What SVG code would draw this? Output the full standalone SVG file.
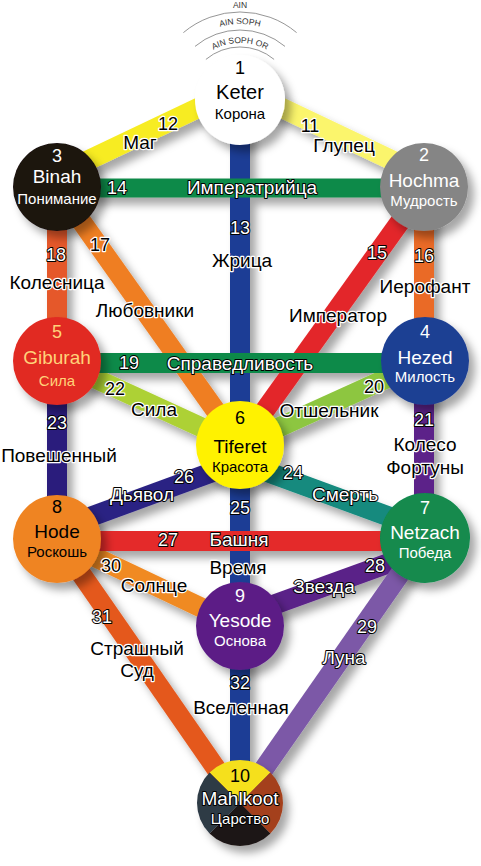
<svg xmlns="http://www.w3.org/2000/svg" width="481" height="866" viewBox="0 0 481 866">
<defs>
<style>
.band{fill:none;stroke-width:20;stroke-linecap:butt}
text{font-family:"Liberation Sans",Arial,sans-serif;text-anchor:middle;dominant-baseline:central}
.num{font-size:18px}
.wd{font-size:19px}
.w{fill:#fff;stroke:#000;stroke-width:2;paint-order:stroke;stroke-linejoin:round}
.b{fill:#000;stroke:#fff;stroke-width:2.4;paint-order:stroke;stroke-linejoin:round}
.nn{font-size:18px}
.nm{font-size:19px}
.sb{font-size:15px}
.ain{font-size:8.5px;fill:#333;text-anchor:middle}
.arc{fill:none;stroke:#8a8a8a;stroke-width:0.9}
</style>
<filter id="sh" x="-30%" y="-30%" width="170%" height="170%">
<feDropShadow dx="6" dy="7" stdDeviation="4" flood-color="#000" flood-opacity="0.35"/>
</filter>
<path id="ap2" d="M164,100 A76,76 0 0 1 316,100"/>
<path id="ap3" d="M183,100 A57,57 0 0 1 297,100"/>
</defs>
<rect width="481" height="866" fill="#fff"/>

<g id="ain">
<path class="arc" d="M183.4,32.6 A88,88 0 0 1 296.6,32.6"/>
<path class="arc" d="M195,46.4 A70,70 0 0 1 285,46.4"/>
<path class="arc" d="M205.9,59.4 A53,53 0 0 1 274.1,59.4"/>
<text class="ain" x="240" y="5">AIN</text>
<text class="ain" style="dominant-baseline:auto"><textPath href="#ap2" startOffset="50%">AIN SOPH</textPath></text>
<text class="ain" style="dominant-baseline:auto"><textPath href="#ap3" startOffset="50%">AIN SOPH OR</textPath></text>
</g>

<g id="connectors" filter="url(#sh)">
<line class="band" x1="240" y1="100" x2="240" y2="803" stroke="#1b3e95"/>
<line class="band" x1="57" y1="187" x2="240" y2="445" stroke="#ef7e22"/>
<line class="band" x1="425" y1="187" x2="240" y2="445" stroke="#e3262a"/>
<line class="band" x1="57" y1="175" x2="240" y2="88" stroke="#f7ec22"/>
<line class="band" x1="423" y1="175" x2="240" y2="88" stroke="#fbf56c"/>
<line class="band" x1="57" y1="187" x2="57" y2="361" stroke="#e5582a"/>
<line class="band" x1="424" y1="187" x2="424" y2="361" stroke="#ea6a25"/>
<line class="band" x1="57" y1="361" x2="57" y2="539" stroke="#2b1b7c"/>
<line class="band" x1="424" y1="361" x2="424" y2="538" stroke="#5c2389"/>
<line class="band" x1="57" y1="361" x2="240" y2="445" stroke="#add136"/>
<line class="band" x1="425" y1="361" x2="240" y2="445" stroke="#8dc63f"/>
<line class="band" x1="57" y1="529" x2="240" y2="462" stroke="#2c2383"/>
<line class="band" x1="240" y1="462" x2="423" y2="529" stroke="#138a7e"/>
<line class="band" x1="57" y1="539" x2="240" y2="626" stroke="#f08a24"/>
<line class="band" x1="425" y1="550" x2="240" y2="617" stroke="#5a2288"/>
<line class="band" x1="57" y1="539" x2="240" y2="803" stroke="#e4591f"/>
<line class="band" x1="425" y1="538" x2="240" y2="803" stroke="#7b58a7"/>
<line class="band" x1="57" y1="188" x2="425" y2="188" stroke="#0f8a4a" style="stroke-width:19"/>
<line class="band" x1="57" y1="363" x2="425" y2="363" stroke="#0f8a4a"/>
<line class="band" x1="57" y1="541" x2="425" y2="541" stroke="#e42a2a"/>
</g>

<g id="keter">
<circle cx="240" cy="100" r="45" fill="#fff" filter="url(#sh)"/>
<text class="nn" x="240" y="68" fill="#000">1</text>
<text class="nm" x="240" y="92" fill="#000" style="font-size:20px">Keter</text>
<text class="sb" x="240" y="113" fill="#000">Корона</text>
</g>
<g id="binah">
<circle cx="57" cy="187" r="44" fill="#1a1210" filter="url(#sh)"/>
<text class="nn" x="57" y="156" fill="#fff">3</text>
<text class="nm" x="57" y="176" fill="#fff">Binah</text>
<text class="sb" x="57" y="198" fill="#fff">Понимание</text>
</g>
<g id="hochma">
<circle cx="424" cy="187" r="44" fill="#858585" filter="url(#sh)"/>
<text class="nn" x="424" y="155" fill="#fff">2</text>
<text class="nm" x="424" y="180" fill="#fff">Hochma</text>
<text class="sb" x="424" y="200" fill="#fff">Мудрость</text>
</g>
<g id="giburah">
<circle cx="57" cy="361" r="44" fill="#e12a22" filter="url(#sh)"/>
<text class="nn" x="57" y="332" fill="#ffd27a">5</text>
<text class="nm" x="57" y="357" fill="#ffd27a">Giburah</text>
<text class="sb" x="57" y="380" fill="#ffd27a">Сила</text>
</g>
<g id="hezed">
<circle cx="425" cy="361" r="44" fill="#1f3f93" filter="url(#sh)"/>
<text class="nn" x="425" y="332" fill="#fff">4</text>
<text class="nm" x="425" y="357" fill="#fff">Hezed</text>
<text class="sb" x="425" y="376" fill="#fff">Милость</text>
</g>
<g id="tiferet">
<circle cx="240" cy="445" r="44" fill="#fff200" filter="url(#sh)"/>
<text class="nn" x="240" y="418" fill="#000">6</text>
<text class="nm" x="240" y="446" fill="#000">Tiferet</text>
<text class="sb" x="240" y="466" fill="#000">Красота</text>
</g>
<g id="hode">
<circle cx="57" cy="539" r="44" fill="#ef8424" filter="url(#sh)"/>
<text class="nn" x="57" y="507" fill="#000">8</text>
<text class="nm" x="57" y="531" fill="#000">Hode</text>
<text class="sb" x="57" y="551" fill="#000">Роскошь</text>
</g>
<g id="netzach">
<circle cx="425" cy="538" r="45" fill="#128a4e" filter="url(#sh)"/>
<text class="nn" x="425" y="508" fill="#fff">7</text>
<text class="nm" x="425" y="532" fill="#fff">Netzach</text>
<text class="sb" x="425" y="552" fill="#fff">Победа</text>
</g>
<g id="yesode">
<circle cx="240" cy="626" r="44" fill="#5b1f86" filter="url(#sh)"/>
<text class="nn" x="240" y="596" fill="#fff">9</text>
<text class="nm" x="240" y="620" fill="#fff">Yesode</text>
<text class="sb" x="240" y="640" fill="#fff">Основа</text>
</g>
<g id="malkuth">
<g filter="url(#sh)">
<path d="M240,803 L209.6,772.6 A43,43 0 0 1 270.4,772.6 Z" fill="#f5e01e"/>
<path d="M240,803 L270.4,772.6 A43,43 0 0 1 270.4,833.4 Z" fill="#a4401c"/>
<path d="M240,803 L270.4,833.4 A43,43 0 0 1 209.6,833.4 Z" fill="#1e1614"/>
<path d="M240,803 L209.6,833.4 A43,43 0 0 1 209.6,772.6 Z" fill="#2d3a45"/>
</g>
<text class="nn" x="240" y="776" fill="#000">10</text>
<text class="nm w" x="240" y="798">Mahlkoot</text>
<text class="sb w" x="240" y="818">Царство</text>
</g>

<g id="labels">
<text class="num b" x="168" y="124">12</text>
<text class="num b" x="310" y="126">11</text>
<text class="num w" x="117" y="188">14</text>
<text class="num w" x="240" y="228">13</text>
<text class="num b" x="100" y="245">17</text>
<text class="num w" x="56" y="255">18</text>
<text class="num w" x="377" y="253">15</text>
<text class="num w" x="424" y="256">16</text>
<text class="num w" x="129" y="363">19</text>
<text class="num b" x="115" y="389">22</text>
<text class="num b" x="374" y="387">20</text>
<text class="num w" x="57" y="423">23</text>
<text class="num w" x="424" y="420">21</text>
<text class="num w" x="184" y="477">26</text>
<text class="num w" x="293" y="473">24</text>
<text class="num w" x="240" y="508">25</text>
<text class="num w" x="168" y="540">27</text>
<text class="num b" x="111" y="566">30</text>
<text class="num w" x="375" y="566">28</text>
<text class="num w" x="102" y="617">31</text>
<text class="num w" x="367" y="627">29</text>
<text class="num w" x="240" y="683">32</text>

<text class="wd b" x="140" y="142">Маг</text>
<text class="wd b" x="344" y="145">Глупец</text>
<text class="wd w" x="252" y="187">Императрийца</text>
<text class="wd b" x="242" y="260">Жрица</text>
<text class="wd b" x="57" y="282">Колесница</text>
<text class="wd b" x="145" y="310">Любовники</text>
<text class="wd b" x="338" y="315">Император</text>
<text class="wd b" x="425" y="286">Иерофант</text>
<text class="wd w" x="240" y="363">Справедливость</text>
<text class="wd b" x="154" y="409">Сила</text>
<text class="wd b" x="329" y="410">Отшельник</text>
<text class="wd b" x="59" y="455">Повешенный</text>
<text class="wd b" x="425" y="444">Колесо</text>
<text class="wd b" x="425" y="467">Фортуны</text>
<text class="wd w" x="142" y="494">Дьявол</text>
<text class="wd w" x="345" y="494">Смерть</text>
<text class="wd w" x="239" y="539">Башня</text>
<text class="wd b" x="238" y="567">Время</text>
<text class="wd b" x="154" y="585">Солнце</text>
<text class="wd w" x="324" y="586">Звезда</text>
<text class="wd b" x="137" y="648">Страшный</text>
<text class="wd b" x="137" y="670">Суд</text>
<text class="wd w" x="344" y="657">Луна</text>
<text class="wd b" x="241" y="707">Вселенная</text>
</g>
</svg>
